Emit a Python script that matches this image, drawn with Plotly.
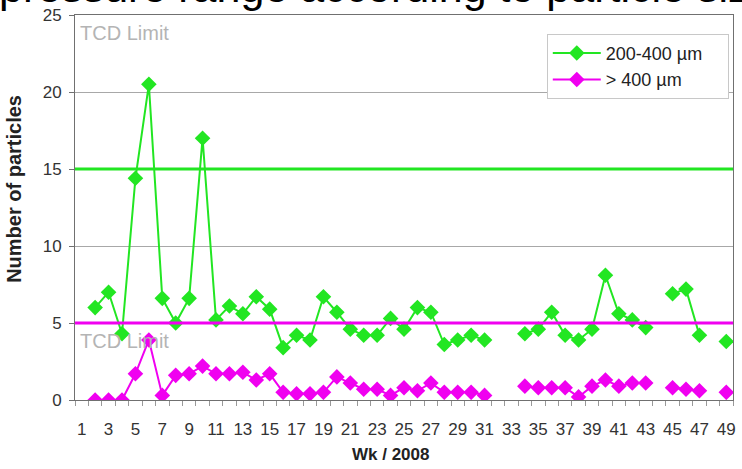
import plotly.graph_objects as go

FONT = "Arial, Liberation Sans, sans-serif"
GREEN = "#22e622"
MAGENTA = "#f000f0"
GRID_COLOR = "#a8a8a8"
AXIS_COLOR = "#707070"
TEXT_COLOR = "#333333"

# weeks of 2008 (category axis)
weeks = list(range(1, 50))
tick_weeks = list(range(1, 50, 2))
tick_labels = [str(w) for w in tick_weeks]

# number of particles per week, None = no measurement
particles_200_400 = [
    None, 6.0, 7.0, 4.3, 14.4, 20.5, 6.6, 5.0, 6.6, 17.0,
    5.2, 6.1, 5.6, 6.7, 5.9, 3.4, 4.2, 3.9, 6.7, 5.7,
    4.6, 4.2, 4.2, 5.3, 4.6, 6.0, 5.7, 3.6, 3.9, 4.2,
    3.9, None, None, 4.3, 4.6, 5.7, 4.2, 3.9, 4.6, 8.1,
    5.6, 5.2, 4.7, None, 6.9, 7.2, 4.2, None, 3.8,
]
particles_400_plus = [
    None, 0.0, 0.0, 0.0, 1.7, 3.9, 0.3, 1.6, 1.7, 2.2,
    1.7, 1.7, 1.8, 1.3, 1.7, 0.5, 0.4, 0.4, 0.5, 1.5,
    1.1, 0.7, 0.7, 0.3, 0.8, 0.6, 1.1, 0.5, 0.5, 0.5,
    0.3, None, None, 0.9, 0.8, 0.8, 0.8, 0.2, 0.9, 1.3,
    0.9, 1.1, 1.1, None, 0.8, 0.7, 0.6, None, 0.5,
]

# TCD limits
limit_200_400 = 15
limit_400_plus = 5

series = [
    ("200-400 µm", particles_200_400, GREEN),
    ("> 400 µm", particles_400_plus, MAGENTA),
]

fig = go.Figure()
for i, (name, values, color) in enumerate(series):
    fig.add_trace(
        go.Scatter(
            x=weeks,
            y=values,
            # trailing spaces widen the legend box like the original
            name=name + "&nbsp;" * 4,
            mode="lines+markers",
            line=dict(color=color, width=2),
            marker=dict(symbol="diamond", size=12, color=color),
            connectgaps=False,
            legendgroup=str(i),
        )
    )

for level, color in [(limit_200_400, GREEN), (limit_400_plus, MAGENTA)]:
    fig.add_shape(
        type="line",
        xref="paper",
        x0=0,
        x1=1,
        y0=level,
        y1=level,
        line=dict(color=color, width=3),
        layer="above",
    )

for y in [23.8, 3.8]:
    fig.add_annotation(
        text="TCD Limit",
        xref="paper",
        x=0.004,
        xanchor="left",
        y=y,
        yanchor="middle",
        showarrow=False,
        font=dict(family=FONT, size=20, color="#b4b4b4"),
    )

# slide title, mostly cut off at the top
fig.add_annotation(
    text="pressure range according to particle size",
    xref="paper",
    yref="paper",
    x=-0.118,
    xanchor="left",
    y=1.006,
    yanchor="bottom",
    showarrow=False,
    font=dict(family=FONT, size=43, color="#000000"),
)

fig.add_annotation(
    text="<b>Wk / 2008</b>",
    xref="paper",
    yref="paper",
    x=0.481,
    y=-0.141,
    xanchor="center",
    yanchor="middle",
    showarrow=False,
    font=dict(family=FONT, size=17, color="#222222"),
)
fig.add_annotation(
    text="<b>Number of particles</b>",
    xref="paper",
    yref="paper",
    x=-0.093,
    y=0.548,
    xanchor="center",
    yanchor="middle",
    textangle=-90,
    showarrow=False,
    font=dict(family=FONT, size=20, color="#222222"),
)

fig.update_xaxes(
    range=[0.5, 49.5],
    tickvals=tick_weeks,
    ticktext=tick_labels,
    ticks="",
    ticklabelstandoff=14,
    tickfont=dict(family=FONT, size=17, color=TEXT_COLOR),
    showgrid=False,
    zeroline=False,
    showline=True,
    linecolor=AXIS_COLOR,
    linewidth=1,
    mirror=True,
    minor=dict(tick0=0.5, dtick=1, ticks="outside", ticklen=5, tickcolor="#999999"),
)
fig.update_yaxes(
    range=[0, 25],
    tickvals=[0, 5, 10, 15, 20, 25],
    ticks="outside",
    ticklen=5,
    tickcolor=AXIS_COLOR,
    ticklabelstandoff=4,
    tickfont=dict(family=FONT, size=17, color=TEXT_COLOR),
    gridcolor=GRID_COLOR,
    gridwidth=1,
    zeroline=False,
    showline=True,
    linecolor=AXIS_COLOR,
    linewidth=1,
    mirror=True,
)
fig.update_layout(
    width=742,
    height=469,
    margin=dict(l=75, r=6, t=11, b=69),
    plot_bgcolor="white",
    paper_bgcolor="white",
    font_family=FONT,
    showlegend=True,
    legend=dict(
        x=0.717,
        y=0.951,
        xanchor="left",
        yanchor="top",
        bgcolor="white",
        bordercolor="#c8c8c8",
        borderwidth=1,
        font=dict(family=FONT, size=18, color="#222222"),
        itemwidth=48,
        tracegroupgap=0,
    ),
    hoverlabel_font_family=FONT,
)

# page body has a default 8px margin; drop it so the figure sits at the corner
fig.write_html(
    "out.html",
    config={"displayModeBar": False},
    post_script="document.body.style.margin = '0px';",
)
